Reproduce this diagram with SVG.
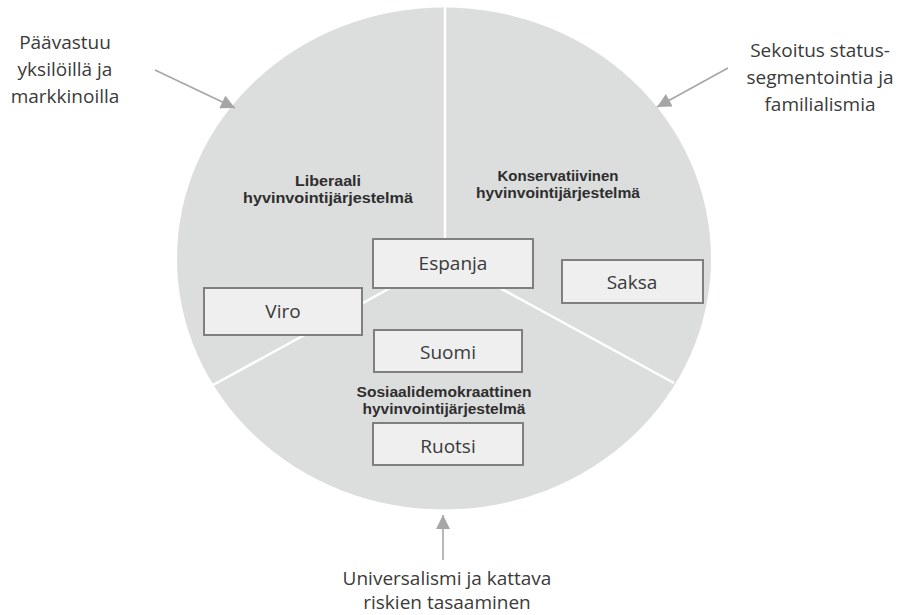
<svg xmlns="http://www.w3.org/2000/svg" width="900" height="615" viewBox="0 0 900 615">
<defs>
<style>
.lbl{font-family:"Open Sans","Liberation Sans",sans-serif;font-size:19px;fill:#3a3a3a;text-anchor:middle}
.cat{font-family:"Liberation Sans",Arial,sans-serif;font-size:14.5px;font-weight:bold;fill:#2e2e2e;text-anchor:middle}
.box{fill:#efefef;stroke:#7f7f7f;stroke-width:2}
.div{stroke:#ffffff;stroke-width:2.5;fill:none}
.arr{stroke:#a6a6a6;stroke-width:1.6;fill:none;marker-end:url(#ah)}
</style>
<marker id="ah" viewBox="0 0 10 10" refX="10" refY="5" markerWidth="15" markerHeight="14" markerUnits="userSpaceOnUse" orient="auto">
<path d="M0,0 L10,5 L0,10 z" fill="#a6a6a6"/>
</marker>
</defs>
<rect width="900" height="615" fill="#ffffff"/>
<g id="pie">
<ellipse cx="444" cy="258.5" rx="267" ry="251" fill="#dcdddd"/>
<line class="div" x1="445" y1="0" x2="445" y2="258"/>
<line class="div" x1="445" y1="258" x2="213" y2="385"/>
<line class="div" x1="445" y1="258" x2="674" y2="383"/>
</g>
<g id="cat-liberaali">
<text class="cat" x="328" y="186" textLength="66" lengthAdjust="spacingAndGlyphs">Liberaali</text>
<text class="cat" x="328" y="203" textLength="170" lengthAdjust="spacingAndGlyphs">hyvinvointijärjestelmä</text>
</g>
<g id="cat-konservatiivinen">
<text class="cat" x="558" y="181" textLength="121" lengthAdjust="spacingAndGlyphs">Konservatiivinen</text>
<text class="cat" x="558" y="198" textLength="164" lengthAdjust="spacingAndGlyphs">hyvinvointijärjestelmä</text>
</g>
<g id="cat-sosiaalidemokraattinen">
<text class="cat" x="444" y="397" textLength="175" lengthAdjust="spacingAndGlyphs">Sosiaalidemokraattinen</text>
<text class="cat" x="444" y="414" textLength="163" lengthAdjust="spacingAndGlyphs">hyvinvointijärjestelmä</text>
</g>
<g id="espanja">
<rect class="box" x="373" y="239" width="160" height="49"/>
<text class="lbl" x="453" y="270">Espanja</text>
</g>
<g id="viro">
<rect class="box" x="204" y="288" width="158" height="47"/>
<text class="lbl" x="283" y="318">Viro</text>
</g>
<g id="saksa">
<rect class="box" x="562" y="260" width="141" height="43"/>
<text class="lbl" x="632" y="289">Saksa</text>
</g>
<g id="suomi">
<rect class="box" x="374" y="330" width="148" height="42"/>
<text class="lbl" x="448" y="359">Suomi</text>
</g>
<g id="ruotsi">
<rect class="box" x="373" y="423" width="150" height="42"/>
<text class="lbl" x="448" y="453">Ruotsi</text>
</g>
<g id="note-left">
<text class="lbl" x="65" y="49">Päävastuu</text>
<text class="lbl" x="65" y="76">yksilöillä ja</text>
<text class="lbl" x="65" y="103">markkinoilla</text>
</g>
<g id="note-right">
<text class="lbl" x="820" y="57">Sekoitus status-</text>
<text class="lbl" x="820" y="84">segmentointia ja</text>
<text class="lbl" x="820" y="111">familialismia</text>
</g>
<g id="note-bottom">
<text class="lbl" x="447" y="585">Universalismi ja kattava</text>
<text class="lbl" x="447" y="609">riskien tasaaminen</text>
</g>
<g id="connectors">
<line class="arr" x1="155" y1="70" x2="235" y2="108"/>
<line class="arr" x1="728" y1="68" x2="657" y2="107"/>
<line class="arr" x1="443" y1="560" x2="443" y2="515"/>
</g>
</svg>
